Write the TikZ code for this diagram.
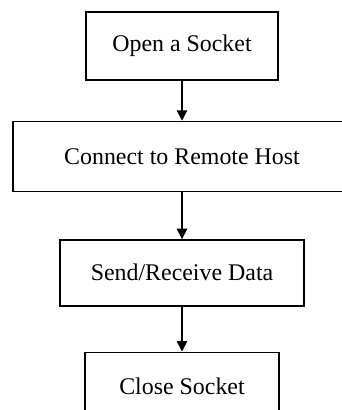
\documentclass[tikz,border=0pt]{standalone}
\usepackage{fontspec}
\setmainfont{Liberation Serif}
\usetikzlibrary{positioning,arrows.meta}

\begin{document}
\begin{tikzpicture}[
      stepbox/.style={rectangle, draw=black, line width=1pt, fill=white,
                      minimum height=1.7cm, font=\fontsize{17}{20}\selectfont},
      arrow/.style={-{Triangle[length=2.6mm,width=2.6mm]}, line width=1pt}
    ]
    \clip (0,0) rectangle (8.55,-10.25);
    \node[stepbox, minimum width=4.8cm] (open) at (4.55,-1.15) {Open a Socket};
    \node[stepbox, minimum width=8.45cm, minimum height=1.75cm, below=1.0cm of open] (connect) {Connect to Remote Host};
    \node[stepbox, minimum width=6.1cm, minimum height=1.65cm, below=1.175cm of connect] (sendrecv) {Send/Receive Data};
    \node[stepbox, minimum width=4.85cm, below=1.125cm of sendrecv] (close) {Close Socket};

    \draw[arrow] (open) -- (connect);
    \draw[arrow] (connect) -- (sendrecv);
    \draw[arrow] (sendrecv) -- (close);
  \end{tikzpicture}
\end{document}
